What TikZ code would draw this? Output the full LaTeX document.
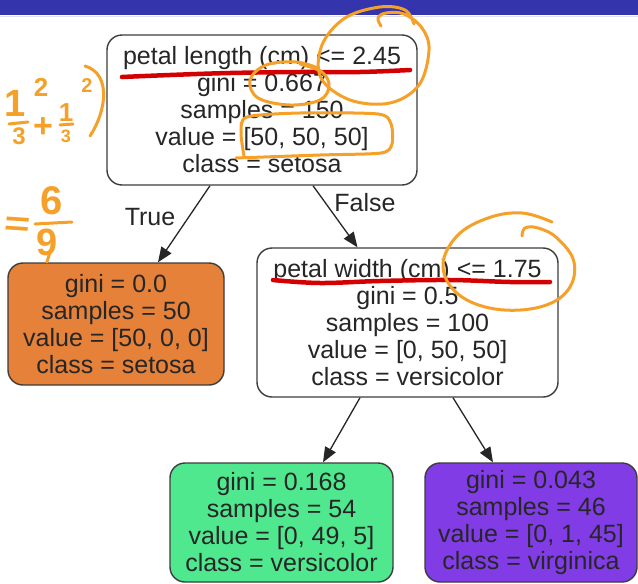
\documentclass[tikz,border=0pt]{standalone}
\usepackage{fontspec}
\setmainfont{Liberation Sans}
\usetikzlibrary{arrows.meta,calc}

\definecolor{barblue}{RGB}{52,52,172}
\definecolor{leaforange}{RGB}{229,129,57}
\definecolor{leafgreen}{RGB}{80,232,143}
\definecolor{leafpurple}{RGB}{129,60,230}
\definecolor{boxline}{RGB}{60,60,60}
\definecolor{ink}{RGB}{245,160,40}
\definecolor{redink}{RGB}{210,0,0}

\tikzset{
  treenode/.style={draw=boxline, line width=1.4pt, rounded corners=15pt,
    inner sep=0pt, align=center, text=black!85,
    font=\fontsize{25}{27}\selectfont},
  edge/.style={line width=1.3pt, black!85,
    -{Triangle[length=15pt,width=12pt]}},
  edgelabel/.style={font=\fontsize{25}{27}\selectfont, text=black!85},
  marker/.style={ink, line width=3pt, line cap=round, line join=round},
  underline/.style={redink, line width=4.5pt, line cap=round},
  hand/.style={ink, inner sep=0pt, font=\bfseries\fontsize{#1}{#1}\selectfont},
  hand/.default=30
}

\begin{document}
\begin{tikzpicture}[x=1pt, y=-1pt]
\useasboundingbox (0,0) rectangle (638,584);
\fill[white] (0,0) rectangle (638,584);

% title bar
\fill[barblue] (0,0) rectangle (638,15);
\draw[black!12, line width=1pt] (0,16.5) -- (638,16.5);

% decision tree
\node[treenode, fill=white, minimum width=310pt, minimum height=150pt] (root) at (262,110)
  {petal length (cm) <= 2.45\\gini = 0.667\\samples = 150\\value = [50, 50, 50]\\class = setosa};
\node[treenode, fill=leaforange, minimum width=216pt, minimum height=122pt] (setosa) at (116,324)
  {gini = 0.0\\samples = 50\\value = [50, 0, 0]\\class = setosa};
\node[treenode, fill=white, minimum width=301pt, minimum height=149pt] (split) at (407.5,322.5)
  {petal width (cm) <= 1.75\\gini = 0.5\\samples = 100\\value = [0, 50, 50]\\class = versicolor};
\node[treenode, fill=leafgreen, minimum width=223pt, minimum height=119pt] (versi) at (281.5,522.5)
  {gini = 0.168\\samples = 54\\value = [0, 49, 5]\\class = versicolor};
\node[treenode, fill=leafpurple, minimum width=212pt, minimum height=119pt] (virgi) at (531,522.5)
  {gini = 0.043\\samples = 46\\value = [0, 1, 45]\\class = virginica};

\draw[edge] ($(root.south)+(-52,0)$) -- ($(setosa.north)+(42,0)$);
\draw[edge] ($(root.south)+(51,0)$) -- ($(split.north)+(-50,0)$);
\draw[edge] ($(split.south)+(-47.5,0)$) -- ($(versi.north)+(41.5,0)$);
\draw[edge] ($(split.south)+(45.5,0)$) -- ($(virgi.north)+(-38,0)$);

\node[edgelabel] (truelbl) at (150,217) {True};
\node[edgelabel] (falselbl) at (365,203) {False};

% red underlines of the split rules
\draw[underline] plot[smooth, tension=0.6] coordinates
  {(122,77) (170,75) (230,73) (300,72) (360,72) (410,70)};
\draw[underline] plot[smooth, tension=0.6] coordinates
  {(273,280) (320,283) (380,281) (450,280) (510,282) (550,282)};

% orange marks: threshold circles
\draw[marker] plot[smooth, tension=0.6] coordinates
  {(381,26) (378,18) (386,13) (404,14) (422,28) (429,50) (419,85) (390,103)
   (350,100) (321,78) (322,45) (345,18) (380,7) (405,10) (414,24)};
\draw[marker] plot[smooth, tension=0.65] coordinates
  {(522,236) (525,228) (538,228) (557,238) (574,262) (568,290) (540,307)
   (495,309) (458,294) (443,266) (457,236) (488,218) (522,213) (552,222)};
% orange marks: gini value and class counts
\draw[marker] plot[smooth, tension=0.6] coordinates
  {(318,68) (296,62) (266,65) (250,80) (258,98) (290,105) (320,100) (329,86)
   (322,72) (300,64)};
\draw[marker] plot[smooth, tension=0.45] coordinates
  {(244,156) (241,132) (247,117) (300,113) (378,114) (391,124) (392,144)
   (381,153) (320,155) (236,158)};

% handwritten working on the left
\node[hand=38] (na) at (15,103) {1};
\draw[marker] (9,124) -- (28,122);
\node[hand=24] (da) at (19,136) {3};
\node[hand=26] (pa) at (41,87) {2};
\node[hand=34] (plus) at (43,128) {+};
\node[hand=26] (nb) at (66,113) {1};
\draw[marker] (60,125) -- (73,124);
\node[hand=18] (db) at (66,136) {3};
\node[hand=20] (pb) at (87,86) {2};
\draw[marker] (85,66) .. controls (112,74) and (106,112) .. (90,136);

\node[hand=34, xscale=1.3, rotate=-5] (eq) at (17,227) {=};
\node[hand=40] (nc) at (52,201) {6};
\draw[marker] (35,224) -- (72,222);
\node[hand=38] (dc) at (47,242) {9};
\draw[marker] (50,252) -- (47,262);
\end{tikzpicture}
\end{document}
